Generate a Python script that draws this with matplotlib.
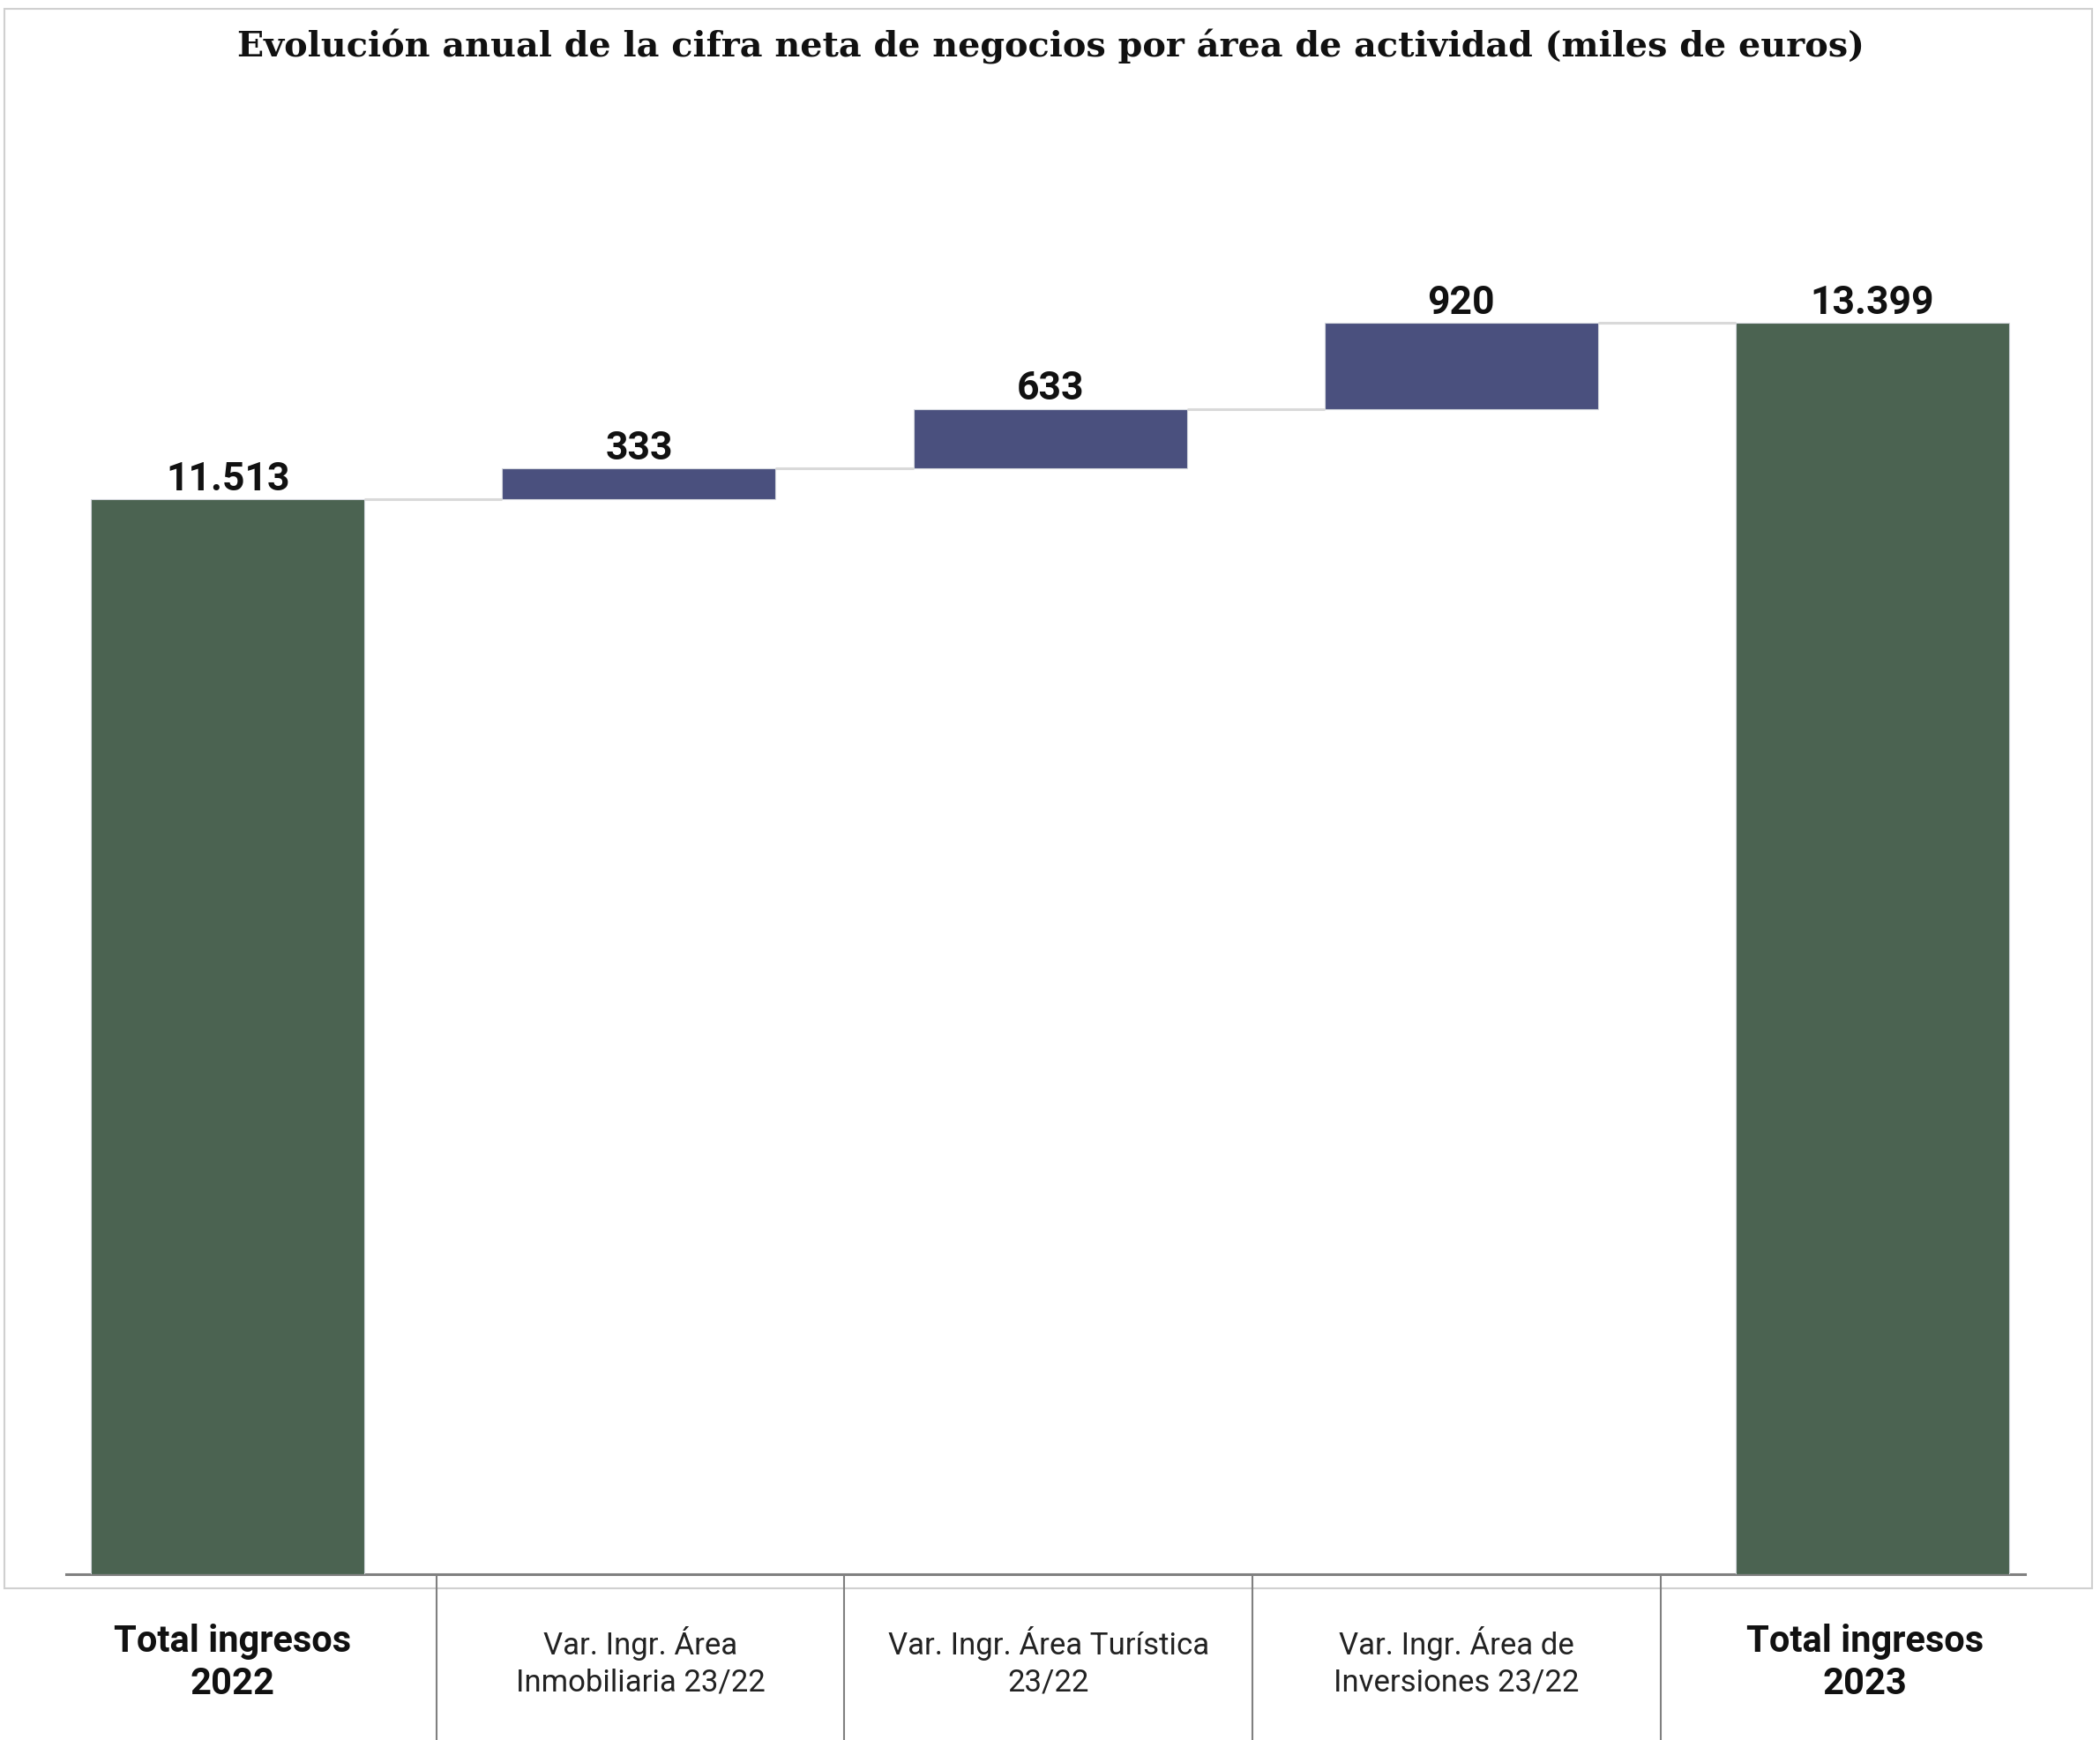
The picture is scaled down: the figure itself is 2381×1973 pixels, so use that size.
import numpy as np
import matplotlib.pyplot as plt
import matplotlib.transforms as mtransforms
from matplotlib.patches import Rectangle

# datos (miles de euros)
categories = ["Total ingresos\n2022",
              "Var. Ingr. Área\nInmobiliaria 23/22",
              "Var. Ingr. Área Turística\n23/22",
              "Var. Ingr. Área de\nInversiones 23/22",
              "Total ingresos\n2023"]
values = [11513, 333, 633, 920, 13399]
is_total = [True, False, False, False, True]
value_labels = ["11.513", "333", "633", "920", "13.399"]

title = "Evolución anual de la cifra neta de negocios por área de actividad (miles de euros)"

green = "#4b6351"
blue = "#4a507e"

fig = plt.figure(figsize=(23.81, 19.74), dpi=100)
ax = fig.add_axes([0.0315, 0.0952, 0.9328, 0.8541])

# waterfall: totals start at 0, variations stack on the running total
x = np.arange(len(values))
bottoms = []
tops = []
running = 0
for v, t in zip(values, is_total):
    if t:
        bottoms.append(0)
        running = v
    else:
        bottoms.append(running)
        running = running + v
    tops.append(running)
heights = np.array(tops) - np.array(bottoms)
colors = [green if t else blue for t in is_total]
w = 0.665

ax.bar(x, heights, bottom=bottoms, width=w, color=colors,
       edgecolor="#d4d7dd", linewidth=0.8, zorder=3)

# connector lines between bars
for i in range(len(x) - 1):
    ax.plot([x[i] + w / 2, x[i + 1] - w / 2], [tops[i], tops[i]],
            color="#d9d9d9", lw=2.2, zorder=2, solid_capstyle="butt")

for i in range(len(x)):
    ax.annotate(value_labels[i], (x[i], tops[i]), xytext=(0, 8),
                textcoords="offset points", ha="center", va="baseline",
                fontsize=32, fontweight="bold", family="Roboto", color="#111111")

ax.set_xlim(-0.393, 4.371)
ax.set_ylim(0, 15921)
for s in ["top", "left", "right"]:
    ax.spines[s].set_visible(False)
ax.spines["bottom"].set_color("#808080")
ax.spines["bottom"].set_linewidth(2.2)
ax.set_xticks([])
ax.set_yticks([])
ax.patch.set_alpha(0)

# category table below the chart (columns in figure coords)
tab_left = 0.01344
col_w = 0.19433
for i in range(len(categories)):
    cx = tab_left + col_w * (i + 0.5)
    if is_total[i]:
        fig.text(cx, 0.0448, categories[i], ha="center", va="center",
                 fontsize=30, fontweight="bold", family="Roboto", linespacing=1.2,
                 color="#111111")
    else:
        fig.text(cx, 0.0455, categories[i], ha="center", va="center",
                 fontsize=25, family="Roboto", linespacing=1.3, color="#222222")
for k in range(1, len(categories)):
    sx = tab_left + col_w * k
    fig.add_artist(plt.Line2D([sx, sx], [0.0937, 0.0], transform=fig.transFigure,
                              color="#808080", lw=1.5))

# outer frame
fig.add_artist(Rectangle((0.0021, 0.0871), 0.9941, 0.9073, transform=fig.transFigure,
                         fill=False, ec="#d0d0d0", lw=1.5))

fig.text(0.5006, 0.973, title, ha="center", va="center", fontsize=28.6,
         fontweight="bold", family="DejaVu Serif", color="#111111")

fig.savefig("out.png", dpi=100)
